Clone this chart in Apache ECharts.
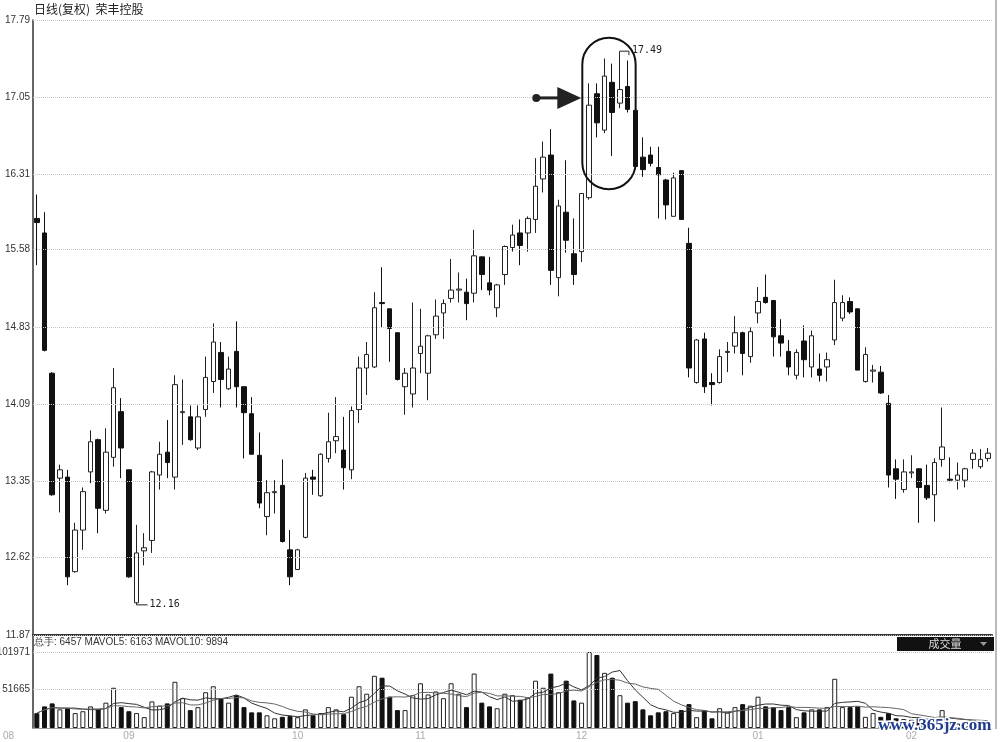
<!DOCTYPE html>
<html><head><meta charset="utf-8">
<script src="https://cdn.jsdelivr.net/npm/echarts@6/dist/echarts.min.js"></script>
<style>html,body{margin:0;padding:0;background:#fff}#c{width:1000px;height:742px}</style>
</head><body><div id="c"></div>
<script>
// ---- data ----
const openP = [15.88,15.74,14.39,13.38,13.39,12.48,12.88,13.44,13.75,13.07,13.58,14.02,13.46,12.18,12.68,12.78,13.41,13.63,13.39,14.01,
13.97,13.67,14.04,14.31,14.59,14.24,14.60,14.26,14.00,13.60,13.01,13.24,13.31,12.69,12.50,12.81,13.39,13.21,13.57,13.74,
13.65,13.46,14.04,14.44,14.45,15.07,15.01,14.78,14.26,14.19,14.58,14.39,14.76,14.97,15.11,15.19,15.17,15.16,15.51,15.26,
15.02,15.34,15.60,15.74,15.74,15.87,16.26,16.49,15.31,15.94,15.54,15.56,16.08,17.08,16.73,17.19,16.99,17.15,16.92,16.47,
16.49,16.37,16.25,15.90,16.34,15.64,14.30,14.72,14.30,14.30,14.59,14.65,14.78,14.55,14.97,15.12,15.09,14.75,14.60,14.37,
14.70,14.45,14.43,14.45,14.71,14.92,15.08,15.01,14.31,14.41,14.40,14.10,13.47,13.27,13.43,13.47,13.31,13.22,13.56,13.37,
13.36,13.36,13.56,13.49,13.57];
const closeP = [15.84,14.61,13.22,13.46,12.43,12.88,13.25,13.73,13.09,13.63,14.25,13.67,12.43,12.66,12.71,13.44,13.61,13.53,14.28,14.02,
13.75,13.97,14.35,14.69,14.33,14.43,14.26,14.01,13.61,13.14,13.24,13.25,12.77,12.43,12.69,13.38,13.37,13.61,13.73,13.78,
13.48,14.03,14.44,14.57,15.02,15.06,14.82,14.33,14.39,14.44,14.65,14.75,14.94,15.06,15.19,15.20,15.06,15.52,15.34,15.19,
15.24,15.61,15.72,15.62,15.88,16.19,16.47,15.38,16.00,15.67,15.34,16.12,16.97,16.80,17.25,16.90,17.12,16.93,16.38,16.35,
16.41,16.30,16.01,16.27,15.87,14.44,14.71,14.26,14.28,14.55,14.60,14.78,14.58,14.79,15.08,15.07,14.74,14.68,14.45,14.59,
14.52,14.75,14.37,14.52,15.07,15.07,14.98,14.42,14.57,14.42,14.20,13.41,13.37,13.44,13.44,13.29,13.19,13.53,13.68,13.36,
13.41,13.47,13.62,13.56,13.62];
const lowP = [15.43,14.60,13.21,13.05,12.35,12.47,12.69,13.33,12.85,13.04,13.49,13.38,12.42,12.16,12.54,12.66,13.27,13.38,13.27,13.70,
13.74,13.65,13.97,14.20,14.06,14.23,14.06,13.57,13.61,13.09,12.83,13.04,12.76,12.35,12.50,12.80,13.22,13.20,13.53,13.62,
13.27,13.37,13.91,14.18,14.44,14.83,14.50,14.32,13.99,14.06,14.39,14.13,14.72,14.72,15.07,15.07,14.90,15.07,15.19,15.14,
14.93,15.24,15.56,15.43,15.56,15.74,16.13,15.24,15.13,15.55,15.24,15.46,16.06,16.66,16.70,16.48,16.94,16.90,16.35,16.28,
16.38,15.88,15.87,15.90,15.87,14.35,14.29,14.20,14.08,14.29,14.40,14.58,14.37,14.49,14.87,15.06,14.55,14.55,14.37,14.33,
14.35,14.35,14.31,14.31,14.66,14.89,14.96,14.42,14.30,14.30,14.19,13.29,13.18,13.24,13.38,12.95,13.17,12.96,13.49,13.34,
13.27,13.29,13.47,13.47,13.54];
const highP = [16.11,15.94,14.40,13.51,13.46,12.95,13.29,13.84,13.76,13.86,14.44,14.15,13.46,12.93,12.85,13.45,13.73,13.94,14.37,14.33,
14.08,14.08,14.55,14.87,14.69,14.55,14.89,14.26,14.16,13.82,13.36,13.36,13.56,12.88,12.70,13.43,13.46,13.62,14.01,14.16,
13.97,14.07,14.55,14.69,15.17,15.41,15.01,14.78,14.44,15.07,15.01,14.76,15.10,15.10,15.49,15.36,15.30,15.77,15.51,15.51,
15.25,15.62,15.82,15.87,15.90,16.46,16.62,16.74,16.06,16.44,15.88,16.12,17.18,17.18,17.42,17.37,17.49,17.40,16.93,16.66,
16.57,16.57,16.26,16.32,16.34,15.79,14.72,14.78,14.39,14.62,14.69,14.94,14.79,14.83,15.22,15.34,15.09,14.91,14.71,14.62,
14.85,14.80,14.58,14.59,15.29,15.14,15.12,15.01,14.64,14.47,14.46,14.18,13.56,13.56,13.60,13.47,13.51,13.57,14.06,13.58,
13.53,13.48,13.66,13.66,13.67];
const volume = [19900,29000,33000,25000,26500,20000,22500,29000,25000,34000,54000,28000,22500,20000,14600,35700,30000,33000,62000,40000,
24000,28000,48000,56000,40000,34000,44000,28000,21000,21000,17000,13000,15000,16000,14500,25000,17000,20000,28000,25000,
18500,42000,56000,46000,70000,67500,42000,24000,24000,44000,60000,45000,49000,40000,60000,46000,28000,73000,34000,29000,
26500,46000,44000,38000,41000,63500,54000,73000,48000,63500,37000,34000,101971,98000,74000,67500,44000,34000,36000,25000,
17000,21000,22500,20000,24000,32000,14500,24000,13000,26500,21000,28000,32000,30000,42000,29000,28000,24000,28000,14500,
21000,25000,25000,28000,66000,28000,28000,29000,15000,20000,15000,20000,13000,12000,11000,13000,10000,12000,24000,9000,
6000,5500,6500,6400,6457];
const monthLabels = ['08','09','10','11','12','01','02'];
const monthStart = [0,12,34,50,71,94,114];
const priceTicks = [11.87,12.62,13.35,14.09,14.83,15.58,16.31,17.05,17.79];
const volTicks = [51665,101971];
const titleText = '日线(复权)  荣丰控股';
const volHeader = '总手: 6457 MAVOL5: 6163 MAVOL10: 9894';
const highLabel = '17.49';
const lowLabel = '12.16';
const highIdx = 76, lowIdx = 13;

// ---- build ----
const N = openP.length;
const categories = [];
for (let i = 0; i < N; i++) {
  let k = 0;
  for (let j = 0; j < monthStart.length; j++) if (monthStart[j] <= i) k = j;
  categories.push(monthLabels[k] + '/' + (i - monthStart[k] + 1));
}
const kData = openP.map((o, i) => [o, closeP[i], lowP[i], highP[i]]);
const volData = volume.map((v, i) => ({
  value: v,
  itemStyle: closeP[i] >= openP[i]
    ? {color: '#fff', borderColor: '#222', borderWidth: 1}
    : {color: '#111', borderColor: '#111', borderWidth: 1}
}));
function ma(n) {
  return volume.map((v, i) => {
    const s = Math.max(0, i - n + 1); let sum = 0;
    for (let j = s; j <= i; j++) sum += volume[j];
    return Math.round(sum / (i - s + 1));
  });
}

const chart = echarts.init(document.getElementById('c'), null, {renderer: 'canvas'});
const gridLeft = 33, gridRight = 8;
const option = {
  animation: false,
  backgroundColor: '#fff',
  grid: [
    {left: gridLeft, right: gridRight, top: 20, height: 615},
    {left: gridLeft, right: gridRight, top: 636, height: 92}
  ],
  xAxis: [
    {type: 'category', gridIndex: 0, data: categories, boundaryGap: true,
     axisLine: {show: true, lineStyle: {color: '#333', width: 2}}, axisTick: {show: false}, axisLabel: {show: false}, splitLine: {show: false}},
    {type: 'category', gridIndex: 1, data: categories, boundaryGap: true,
     axisLine: {show: true, lineStyle: {color: '#999', width: 1}}, axisTick: {show: false},
     axisLabel: {show: true, color: '#aaa', fontSize: 10, margin: 3, fontFamily: 'Liberation Sans',
       interval: (idx) => monthStart.indexOf(idx) > 0,
       formatter: (v) => v.split('/')[0]},
     splitLine: {show: false}}
  ],
  yAxis: [
    {type: 'value', gridIndex: 0, min: priceTicks[0], max: priceTicks[priceTicks.length - 1], scale: true,
     axisLine: {show: true, lineStyle: {color: '#333', width: 1.5}}, axisTick: {show: false}, axisLabel: {show: false}, splitLine: {show: false}},
    {type: 'value', gridIndex: 1, min: 0, max: 123440,
     axisLine: {show: true, lineStyle: {color: '#333', width: 1.5}}, axisTick: {show: false}, axisLabel: {show: false}, splitLine: {show: false}}
  ],
  series: [
    {type: 'candlestick', xAxisIndex: 0, yAxisIndex: 0, data: kData, barWidth: 5,
     itemStyle: {color: '#fff', color0: '#111', borderColor: '#222', borderColor0: '#111', borderWidth: 1},
     emphasis: {disabled: true},
     markLine: {silent: true, symbol: ['none', 'none'], animation: false,
       lineStyle: {color: '#c4c4c4', type: 'dotted', width: 1},
       label: {position: 'start', distance: 3, color: '#333', fontSize: 10, fontFamily: 'Liberation Sans',
         formatter: (p) => Number(p.value).toFixed(2)},
       emphasis: {disabled: true},
       data: priceTicks.map(v => ({yAxis: v}))}
    },
    {type: 'bar', xAxisIndex: 1, yAxisIndex: 1, data: volData, barWidth: 5,
     emphasis: {disabled: true},
     markLine: {silent: true, symbol: ['none', 'none'], animation: false,
       lineStyle: {color: '#c4c4c4', type: 'dotted', width: 1},
       label: {position: 'start', distance: 3, color: '#333', fontSize: 10, fontFamily: 'Liberation Sans',
         formatter: (p) => String(Math.round(p.value))},
       emphasis: {disabled: true},
       data: volTicks.map(v => ({yAxis: v}))}
    },
    {type: 'line', xAxisIndex: 1, yAxisIndex: 1, data: ma(5), showSymbol: false, smooth: false,
     lineStyle: {color: '#333', width: 1}, emphasis: {disabled: true}, z: 5},
    {type: 'line', xAxisIndex: 1, yAxisIndex: 1, data: ma(10), showSymbol: false, smooth: false,
     lineStyle: {color: '#666', width: 1}, emphasis: {disabled: true}, z: 5}
  ]
};
chart.setOption(option);

// ---- annotations positioned through the chart's own scales ----
const px = (i, v) => chart.convertToPixel({gridIndex: 0}, [i, v]);
const bw = px(1, 15)[0] - px(0, 15)[0];
const g = [];
g.push({type: 'text', left: 34, top: 3, style: {text: titleText, fill: '#222', font: '12px "Noto Sans CJK SC"'}});
g.push({type: 'text', left: 34, top: 637, style: {text: volHeader, fill: '#333', font: '10px "Liberation Sans"'}});
g.push({type: 'rect', shape: {x: 897, y: 637, width: 97, height: 14}, style: {fill: '#111'}});
g.push({type: 'text', x: 945, y: 644, style: {text: '成交量', fill: '#ddd', font: '11px "Noto Sans CJK SC"', textAlign: 'center', textVerticalAlign: 'middle'}});
g.push({type: 'polygon', shape: {points: [[980, 642], [987, 642], [983.5, 646]]}, style: {fill: '#999'}});
g.push({type: 'text', x: 3, y: 731, style: {text: monthLabels[0], fill: '#aaa', font: '10px "Liberation Sans"'}});
g.push({type: 'line', shape: {x1: 996, y1: 0, x2: 996, y2: 729}, style: {stroke: '#777', lineWidth: 1}});

// stadium around the top cluster
const a = px(72, 17.62), b = px(77, 16.16);
const sx = a[0] - 0.9 * bw, ex = b[0] + 1.05 * bw;
g.push({type: 'rect', shape: {x: sx, y: a[1], width: ex - sx, height: b[1] - a[1], r: (ex - sx) / 2},
  style: {fill: 'none', stroke: '#111', lineWidth: 2}, z: 10});
// arrow pointing at it
const ay = px(0, 17.04)[1];
const tip = sx - 1;
g.push({type: 'line', shape: {x1: tip - 45, y1: ay, x2: tip - 20, y2: ay}, style: {stroke: '#222', lineWidth: 3}, z: 10});
g.push({type: 'circle', shape: {cx: tip - 45, cy: ay, r: 4}, style: {fill: '#222'}, z: 10});
g.push({type: 'polygon', shape: {points: [[tip - 24, ay - 11], [tip, ay], [tip - 24, ay + 11]]}, style: {fill: '#222'}, z: 10});
// high label
const hp = px(highIdx, highP[highIdx]);
g.push({type: 'polyline', shape: {points: [[hp[0], hp[1]], [hp[0] + 9, hp[1]], [hp[0] + 9, hp[1] + 4]]}, style: {stroke: '#222', lineWidth: 1}, z: 10});
g.push({type: 'text', x: hp[0] + 12, y: hp[1] - 1, style: {text: highLabel, fill: '#222', font: '10px "DejaVu Sans Mono"', textVerticalAlign: 'middle'}, z: 10});
// low label
const lp = px(lowIdx, lowP[lowIdx]);
g.push({type: 'line', shape: {x1: lp[0], y1: lp[1], x2: lp[0] + 11, y2: lp[1]}, style: {stroke: '#222', lineWidth: 1}, z: 10});
g.push({type: 'text', x: lp[0] + 13, y: lp[1], style: {text: lowLabel, fill: '#222', font: '10px "DejaVu Sans Mono"', textVerticalAlign: 'middle'}, z: 10});
// watermark (on its own layer, above the bars)
g.push({type: 'text', x: 878, y: 717, zlevel: 2, z: 100,
  style: {text: 'www.365jz.com', fill: '#1f3c8c', stroke: '#fff', lineWidth: 3, font: 'bold 17px "Liberation Serif"'}});
chart.setOption({graphic: g});
</script></body></html>
